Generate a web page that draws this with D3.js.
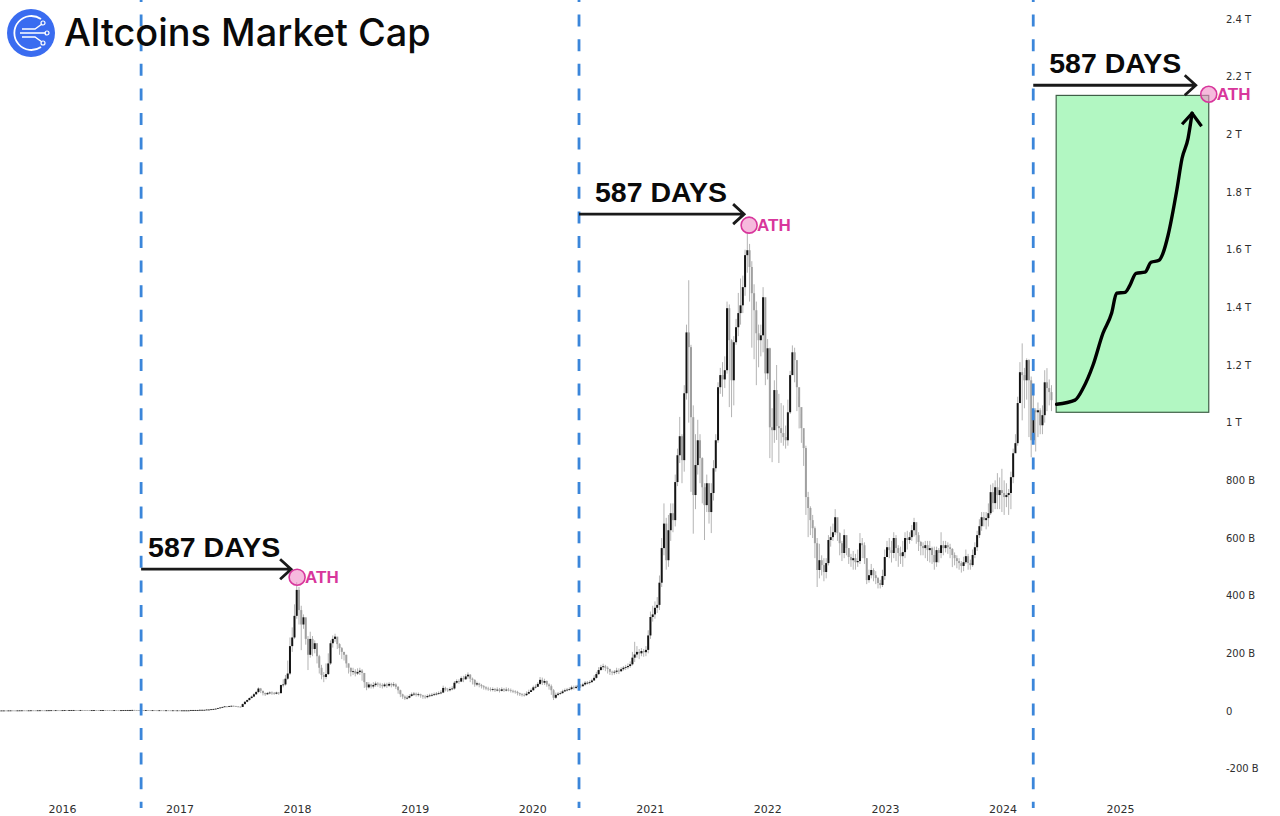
<!DOCTYPE html>
<html>
<head>
<meta charset="utf-8">
<title>Altcoins Market Cap</title>
<script src="https://cdn.jsdelivr.net/npm/d3@7"></script>
<style>
    html, body { margin: 0; padding: 0; background: #fff; }
    svg { display: block; }
</style>
</head>
<body>
<script>
// weekly candles, values in billions
var firstYear = 2015.467;
var weekStep = 7 / 365.25;

// 2015-06 .. 2016-12, the flat part
var earlyClose = [
    1.6,1.7,1.7,1.6,1.8,1.9,1.8,1.7,1.9,2.0,
    2.1,2.0,1.9,2.0,2.2,2.1,2.0,2.2,2.3,2.2,
    2.1,2.3,2.4,2.5,2.4,2.6,2.5,2.4,2.6,2.8,
    2.7,2.9,3.0,3.1,3.0,2.9,3.1,3.0,2.8,2.7,
    2.6,2.7,2.8,2.7,2.6,2.8,2.9,2.8,2.7,2.6,
    2.5,2.7,2.6,2.5,2.6,2.8,3.0,3.2,3.4,3.6,
    3.3,3.1,2.9,2.8,2.7,2.8,2.6,2.5,2.6,2.4,
    2.3,2.4,2.3,2.2,2.3,2.2,2.1,2.2,2.1,2.1];
var earlyHigh = [
    2.2,2.2,2.3,2.1,2.4,2.5,2.4,2.2,2.4,2.6,
    2.7,2.5,2.5,2.6,2.8,2.6,2.6,2.8,2.9,2.7,
    2.7,2.9,3.0,3.1,3.0,3.2,3.0,3.0,3.2,3.4,
    3.2,3.5,3.6,3.7,3.5,3.5,3.7,3.5,3.4,3.2,
    3.1,3.3,3.4,3.2,3.2,3.4,3.5,3.3,3.2,3.2,
    3.0,3.3,3.1,3.0,3.2,3.4,3.6,3.8,4.0,4.4,
    3.9,3.6,3.5,3.3,3.3,3.3,3.2,3.0,3.2,2.9,
    2.8,3.0,2.8,2.8,2.8,2.7,2.7,2.7,2.6,2.7];
var earlyLow = [
    1.2,1.3,1.2,1.2,1.3,1.4,1.3,1.3,1.4,1.5,
    1.6,1.5,1.4,1.5,1.7,1.6,1.5,1.7,1.8,1.7,
    1.6,1.8,1.9,2.0,1.9,2.1,2.0,1.9,2.1,2.3,
    2.2,2.4,2.5,2.6,2.5,2.4,2.6,2.5,2.3,2.2,
    2.1,2.2,2.3,2.2,2.1,2.3,2.4,2.3,2.2,2.1,
    2.0,2.2,2.1,2.0,2.1,2.3,2.5,2.7,2.9,3.1,
    2.8,2.6,2.4,2.3,2.2,2.3,2.1,2.0,2.1,1.9,
    1.8,1.9,1.8,1.7,1.8,1.7,1.6,1.7,1.6,1.6];

// 2017-01 .. 2024-06
var close = [
    2,2,2,2,2,3,3,3,3,4,
    4,4,5,5,6,7,8,10,12,14,
    16,15,17,18,17,16,15,14,24,32,
    38,45,50,58,66,78,70,62,58,62,
    64,63,60,64,62,90,92,112,130,225,
    255,330,420,350,300,325,250,195,250,215,
    235,190,150,125,118,128,165,235,250,258,
    232,218,205,195,165,150,135,138,130,135,
    140,132,100,82,92,85,90,95,92,90,
    86,92,88,94,90,92,84,72,58,50,
    44,46,52,58,60,56,58,54,50,48,
    52,54,56,58,60,62,64,80,74,72,
    76,78,98,104,102,114,110,120,126,112,
    108,92,96,90,86,82,78,76,74,76,
    72,74,70,75,72,74,73,70,68,66,
    62,58,56,55,60,66,72,82,84,94,
    108,98,104,92,86,72,46,56,60,62,
    68,72,74,76,82,80,84,88,86,92,
    98,98,100,106,115,128,142,152,155,150,
    146,136,134,136,140,138,145,150,152,156,
    162,185,196,205,200,208,204,212,262,326,
    335,358,368,445,565,650,523,627,686,662,
    794,887,953,870,1102,1313,1262,1019,749,853,
    939,877,776,714,790,690,756,842,939,1123,
    1165,1150,1182,1397,1286,1147,1279,1331,1380,1407,
    1470,1581,1598,1540,1449,1390,1310,1286,1303,1435,
    1171,1258,984,974,1113,988,981,964,950,939,
    1036,1165,1244,1217,1123,1054,981,912,742,704,
    662,634,582,489,523,506,482,513,593,603,
    620,672,617,582,548,610,565,534,523,530,
    516,520,582,575,530,454,471,489,471,461,
    444,437,468,534,568,558,548,600,565,548,
    537,551,600,593,603,627,655,610,586,572,
    565,575,558,565,541,516,558,548,575,565,
    575,568,562,541,530,520,513,503,516,537,
    513,506,541,568,610,641,672,662,669,686,
    759,721,776,749,766,756,742,749,756,811,
    894,929,1068,1175,1165,1147,1217,1147,939,1043,
    1036,1043,991,1026,1140,1120,1106,1078];
var high = [
    3,3,3,3,3,4,4,4,4,5,
    5,5,6,6,7,8,9,11,13,15,
    17,17,18,19,19,18,17,16,26,34,
    40,47,54,62,70,82,80,70,64,66,
    68,68,66,67,66,92,110,125,175,255,
    290,370,447,430,365,335,320,260,275,260,
    245,235,195,160,135,165,200,245,262,268,
    255,235,222,205,195,165,150,150,145,148,
    150,145,130,100,100,95,100,102,100,98,
    96,98,98,100,98,100,96,86,74,60,
    54,54,58,64,66,64,64,60,56,56,
    58,60,62,64,66,68,72,88,84,80,
    82,86,104,110,110,120,122,128,134,128,
    116,110,102,98,94,90,86,84,82,82,
    80,82,80,82,80,82,80,78,74,72,
    70,64,62,62,68,74,78,88,92,100,
    118,116,112,106,96,92,76,64,66,68,
    74,78,80,82,88,88,90,94,94,98,
    104,104,106,112,124,136,152,160,164,160,
    155,146,140,142,150,148,152,156,160,165,
    172,205,240,225,215,218,215,225,280,345,
    365,380,395,470,600,720,670,680,720,720,
    820,910,1020,960,1130,1340,1494,1270,1060,960,
    1010,960,880,790,820,780,790,870,960,1140,
    1190,1210,1230,1420,1410,1290,1300,1360,1450,1500,
    1510,1600,1660,1620,1560,1480,1420,1340,1340,1470,
    1400,1290,1260,1050,1147,1200,1100,1068,1060,990,
    1080,1180,1268,1260,1170,1090,1030,950,920,760,
    710,680,640,600,580,540,530,530,610,640,
    650,700,660,620,590,630,610,565,545,555,
    545,560,617,600,585,530,490,510,495,485,
    465,455,490,560,590,600,590,620,610,575,
    570,590,620,625,620,645,670,650,620,590,
    585,590,590,590,570,570,570,565,620,590,
    590,585,580,565,550,540,530,520,535,560,
    545,525,560,585,625,665,690,690,690,720,
    785,790,800,825,810,840,800,790,770,830,
    910,960,1090,1210,1275,1190,1223,1220,1160,1100,
    1050,1070,1050,1060,1182,1189,1150,1130];
var low = [
    1,1,1,1,1,2,2,2,2,3,
    3,4,4,4,5,6,7,8,10,12,
    14,13,15,16,15,14,13,12,14,22,
    30,36,43,48,56,62,62,54,52,56,
    58,56,56,58,56,60,82,88,108,125,
    205,250,320,300,211,285,230,142,185,190,
    200,165,130,110,100,110,125,160,220,240,
    215,195,180,175,150,130,120,125,120,125,
    125,105,80,72,78,78,78,84,84,80,
    78,82,80,84,82,84,76,60,48,42,
    38,40,44,50,52,50,50,46,42,42,
    44,48,50,52,54,56,58,62,68,66,
    68,72,74,94,94,100,100,108,112,100,
    92,84,86,82,78,74,72,70,68,68,
    66,68,64,68,66,68,68,64,62,60,
    54,52,50,50,52,58,66,70,78,84,
    90,90,90,84,74,56,38,42,52,56,
    60,66,68,70,72,74,76,80,80,84,
    88,92,92,98,104,112,125,140,142,138,
    130,125,124,126,128,128,135,140,142,145,
    150,158,170,185,180,190,188,190,200,250,
    310,320,340,350,430,540,490,500,590,620,
    640,780,860,790,830,1080,1000,760,615,700,
    820,790,720,593,690,650,617,730,830,930,
    1100,1090,1120,1170,1054,1019,1060,1270,1300,1340,
    1380,1440,1520,1420,1260,1220,1130,1192,1230,1244,
    1130,1150,877,863,930,940,860,930,920,910,
    920,1030,1180,1140,1040,980,930,850,680,603,
    610,600,530,430,460,470,450,460,505,570,
    590,610,590,540,520,530,540,510,500,490,
    490,500,510,530,510,440,445,460,450,440,
    425,425,430,455,535,530,515,530,520,500,
    510,500,530,560,580,590,605,580,555,540,
    540,530,520,515,510,490,500,515,530,540,
    550,545,530,499,505,495,490,480,485,510,
    490,490,500,530,555,600,625,640,630,640,
    680,690,700,700,700,690,680,707,680,700,
    790,900,920,1100,1008,1050,1080,950,880,950,
    900,950,960,960,1000,1040,1060,1040];

// the drawn projection inside the green box
var projYear = [2024.461,2024.617,2024.687,2024.770,2024.855,2024.929,2024.971,2025.043,2025.085,2025.136,2025.213,2025.264,2025.332,2025.366,2025.409,2025.483,2025.528,2025.579,2025.613];
var projValue = [1064,1078,1120,1199,1310,1380,1449,1452,1477,1518,1522,1556,1563,1588,1650,1806,1917,1986,2073];

// cycle start (blue line) and the ATH it leads to
var cycleStart = [2016.673, 2020.398, 2024.262];
var athYear = [2018.000, 2021.845, 2025.755];
var athValue = [464, 1685, 2139];
var daysLabel = ["587 DAYS", "587 DAYS", "587 DAYS"];

var boxYear = [2024.457, 2025.755];
var boxValue = [1036, 2135];

var yearTicks = [2016,2017,2018,2019,2020,2021,2022,2023,2024,2025];
var valueTicks = [2400,2200,2000,1800,1600,1400,1200,1000,800,600,400,200,0,-200];
var valueLabels = ["2.4 T","2.2 T","2 T","1.8 T","1.6 T","1.4 T","1.2 T","1 T","800 B","600 B","400 B","200 B","0","-200 B"];

var width = 1280, height = 816;
var x = d3.scaleLinear().domain([2016, 2025]).range([62, 1120]);
var y = d3.scaleLinear().domain([0, 2400]).range([711, 19]);

var svg = d3.select("body").append("svg")
    .attr("width", width)
    .attr("height", height)
    .style("background", "#fff");

function get_candles()
{
    var closes = earlyClose.concat(close);
    var highs = earlyHigh.concat(high);
    var lows = earlyLow.concat(low);
    return closes.map(function(c, i) {
        return {
            year: firstYear + i * weekStep,
            open: i == 0 ? c : closes[i - 1],
            close: c,
            high: highs[i],
            low: lows[i]
        };
    });
}

function draw_candles()
{
    var data = get_candles();
    // the source is a soft screenshot, so a touch of blur on the candles
    var g = svg.append("g").attr("class", "candles").style("filter", "blur(0.35px)");

    g.selectAll("line")
        .data(data)
        .enter().append("line")
        .attr("x1", function(d) { return x(d.year); })
        .attr("x2", function(d) { return x(d.year); })
        .attr("y1", function(d) { return y(d.high); })
        .attr("y2", function(d) { return y(d.low); })
        .attr("stroke", "#b4b4b4")
        .attr("stroke-width", 1);

    g.selectAll("rect")
        .data(data)
        .enter().append("rect")
        .attr("x", function(d) { return x(d.year) - 1; })
        .attr("width", 2)
        .attr("y", function(d) { return y(Math.max(d.open, d.close)); })
        .attr("height", function(d) { return Math.max(0.8, Math.abs(y(d.open) - y(d.close))); })
        .attr("fill", function(d) { return d.close >= d.open ? "#141414" : "#a0a0a0"; });
}

function draw_axes()
{
    var xAxis = d3.axisBottom(x)
        .tickValues(yearTicks)
        .tickFormat(d3.format("d"))
        .tickSize(0);
    var gx = svg.append("g")
        .attr("class", "x axis")
        .attr("transform", "translate(0,802)")
        .call(xAxis);
    gx.select(".domain").remove();
    gx.selectAll("text")
        .attr("font-family", "'DejaVu Sans', sans-serif")
        .attr("font-size", 11)
        .attr("fill", "#2e2e2e");

    var yAxis = d3.axisRight(y)
        .tickValues(valueTicks)
        .tickFormat(function(d, i) { return valueLabels[i]; })
        .tickSize(0);
    var gy = svg.append("g")
        .attr("class", "y axis")
        .attr("transform", "translate(1223,0)")
        .call(yAxis);
    gy.select(".domain").remove();
    gy.selectAll("text")
        .attr("font-family", "'DejaVu Sans', sans-serif")
        .attr("font-size", 10)
        .attr("fill", "#2e2e2e");
}

function draw_box()
{
    svg.append("rect")
        .attr("x", x(boxYear[0]))
        .attr("y", y(boxValue[1]))
        .attr("width", x(boxYear[1]) - x(boxYear[0]))
        .attr("height", y(boxValue[0]) - y(boxValue[1]))
        .attr("fill", "#b2f7c2")
        .attr("stroke", "#3f5f47")
        .attr("stroke-width", 1.2);

    var points = projYear.map(function(d, i) { return [x(d), y(projValue[i])]; });
    var valueline = d3.line().curve(d3.curveMonotoneX);
    svg.append("path")
        .attr("d", valueline(points))
        .attr("fill", "none")
        .attr("stroke", "#000")
        .attr("stroke-width", 3.4)
        .attr("stroke-linecap", "round");

    // head of the projection arrow
    var tip = points[points.length - 1];
    svg.append("path")
        .attr("d", "M" + (tip[0] - 10) + "," + (tip[1] + 11) + "L" + tip[0] + "," + tip[1] + "L" + (tip[0] + 9.5) + "," + (tip[1] + 13))
        .attr("fill", "none")
        .attr("stroke", "#000")
        .attr("stroke-width", 3.2)
        .attr("stroke-linejoin", "round");
}

function draw_cycles()
{
    var arrowOffset = [8, 11, 9];
    var textDx = [7, 16, 16];

    svg.selectAll(".cycle")
        .data(cycleStart)
        .enter().append("line")
        .attr("class", "cycle")
        .attr("x1", function(d) { return x(d); })
        .attr("x2", function(d) { return x(d); })
        .attr("y1", -10)
        .attr("y2", 808)
        .attr("stroke", "#3b86da")
        .attr("stroke-width", 2.8)
        .attr("stroke-dasharray", "12,12.6");

    cycleStart.forEach(function(start, i) {
        var ax = x(athYear[i]), ay = y(athValue[i]);
        var lineY = ay - arrowOffset[i];
        var tipX = ax - 5;
        if (i == 2) { tipX = ax - 13; }
        if (i == 0) { tipX = ax - 6; }

        svg.append("path")
            .attr("d", "M" + x(start) + "," + lineY + "L" + tipX + "," + lineY
                + "M" + (tipX - 11) + "," + (lineY - 10) + "L" + tipX + "," + lineY + "L" + (tipX - 11) + "," + (lineY + 10))
            .attr("fill", "none")
            .attr("stroke", "#1a1a1a")
            .attr("stroke-width", 2.8);

        svg.append("text")
            .attr("x", x(start) + textDx[i])
            .attr("y", lineY - 12.5)
            .attr("font-family", "'Liberation Sans', Arial, sans-serif")
            .attr("font-weight", "bold")
            .attr("font-size", 28.5)
            .attr("fill", "#0a0a0a")
            .text(daysLabel[i]);

        svg.append("circle")
            .attr("cx", ax)
            .attr("cy", ay)
            .attr("r", 8)
            .attr("fill", "#f08cc6")
            .attr("fill-opacity", 0.6)
            .attr("stroke", "#d8369c")
            .attr("stroke-width", 1.6);

        svg.append("text")
            .attr("x", ax + 8)
            .attr("y", ay + 6)
            .attr("font-family", "'Liberation Sans', Arial, sans-serif")
            .attr("font-weight", "bold")
            .attr("font-size", 17)
            .attr("fill", "#d8369c")
            .text("ATH");
    });
}

function draw_title()
{
    var logo = svg.append("g").attr("transform", "translate(31,33)");
    logo.append("circle").attr("r", 24).attr("fill", "#3a6cf0");
    logo.append("path")
        .attr("d", "M10,-14A17,17 0 1 0 10,14")
        .attr("fill", "none")
        .attr("stroke", "#fff")
        .attr("stroke-width", 1.8);
    logo.append("path")
        .attr("d", "M-9,-4H4L11,-9M-11,0H15M-9,4H4L11,9")
        .attr("fill", "none")
        .attr("stroke", "#fff")
        .attr("stroke-width", 1.4);
    logo.selectAll(".node")
        .data([[12, -10], [16, 0], [12, 10]])
        .enter().append("circle")
        .attr("class", "node")
        .attr("cx", function(d) { return d[0]; })
        .attr("cy", function(d) { return d[1]; })
        .attr("r", 2)
        .attr("fill", "none")
        .attr("stroke", "#fff")
        .attr("stroke-width", 1.2);

    svg.append("text")
        .attr("x", 64)
        .attr("y", 46)
        .attr("font-family", "Inter, 'Noto Sans', sans-serif")
        .attr("font-weight", 500)
        .attr("font-size", 37.9)
        .attr("fill", "#0a0a0a")
        .text("Altcoins Market Cap");
}

draw_candles();
draw_box();
draw_axes();
draw_cycles();
draw_title();
</script>
</body>
</html>
